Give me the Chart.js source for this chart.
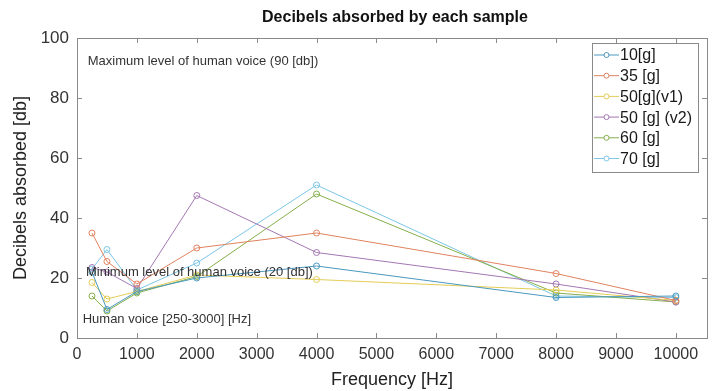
<!DOCTYPE html>
<html>
<head>
<meta charset="utf-8">
<script src="https://cdn.jsdelivr.net/npm/chart.js@4.4.1/dist/chart.umd.min.js"></script>
<style>
html,body{margin:0;padding:0;background:#fff;}
#wrap{width:715px;height:391px;position:relative;}
</style>
</head>
<body>
<div id="wrap"><canvas id="c" width="715" height="391"></canvas></div>
<script>
const frequencies = [250, 500, 1000, 2000, 4000, 8000, 10000];
const s10g   = [22, 9.5, 15.5, 20, 24, 13.5, 14];
const s35g   = [35, 25.5, 18, 30, 35, 21.5, 12.5];
const s50v1  = [18.5, 13, 15.5, 21, 19.5, 16, 12.5];
const s50v2  = [23.5, 22, 16.5, 47.5, 28.5, 18, 12];
const s60g   = [14, 9, 15, 20.5, 48, 15, 12];
const s70g   = [23, 29.5, 16, 25, 51, 14, 13.5];
const seriesNames = ['10[g]', '35 [g]', '50[g](v1)', '50 [g] (v2)', '60 [g]', '70 [g]'];
const xTicks = [0,1000,2000,3000,4000,5000,6000,7000,8000,9000,10000];
const yTicks = [0,20,40,60,80,100];
const annotations = [
  {x: 180, y: 92.3, text: 'Maximum level of human voice (90 [db])'},
  {x: 150, y: 21.8, text: 'Minimum level of human voice (20 [db])'},
  {x: 95, y: 6.2, text: 'Human voice [250-3000] [Hz]'}
];
const colors = ['#4a98bf', '#e0825f', '#e3cc55', '#a477b3', '#86ae4a', '#7cc6e6'];

const allSeries = [s10g, s35g, s50v1, s50v2, s60g, s70g];
const datasets = allSeries.map((arr, i) => ({
  label: seriesNames[i],
  data: arr.map((v, j) => ({x: frequencies[j], y: v})),
  borderColor: colors[i],
  backgroundColor: 'rgba(0,0,0,0)',
  pointBackgroundColor: 'rgba(0,0,0,0)',
  pointBorderColor: colors[i],
  pointRadius: 3,
  pointBorderWidth: 1,
  borderWidth: 1,
  tension: 0
}));

const FONT = 'Liberation Sans, Arial, sans-serif';

const decor = {
  id: 'decor',
  afterDraw(chart) {
    const ctx = chart.ctx;
    const a = chart.chartArea;
    const xs = chart.scales.x, ys = chart.scales.y;
    ctx.save();
    ctx.strokeStyle = '#8a8a8a';
    ctx.lineWidth = 1;
    ctx.strokeRect(Math.round(a.left)+0.5, Math.round(a.top)+0.5, Math.round(a.right-a.left), Math.round(a.bottom-a.top));
    const tl = 5;
    ctx.beginPath();
    xTicks.forEach(v => {
      const px = Math.round(xs.getPixelForValue(v)) + 0.5;
      ctx.moveTo(px, a.bottom); ctx.lineTo(px, a.bottom - tl);
      ctx.moveTo(px, a.top); ctx.lineTo(px, a.top + tl);
    });
    yTicks.forEach(v => {
      const py = Math.round(ys.getPixelForValue(v)) + 0.5;
      ctx.moveTo(a.left, py); ctx.lineTo(a.left + tl, py);
      ctx.moveTo(a.right, py); ctx.lineTo(a.right - tl, py);
    });
    ctx.stroke();
    ctx.fillStyle = '#111';
    ctx.font = 'bold 16px ' + FONT;
    ctx.textAlign = 'center';
    ctx.textBaseline = 'middle';
    ctx.fillText('Decibels absorbed by each sample', 395, 18);
    ctx.fillStyle = '#333';
    ctx.font = '13px ' + FONT;
    ctx.textAlign = 'left';
    annotations.forEach(t => {
      ctx.fillText(t.text, xs.getPixelForValue(t.x), ys.getPixelForValue(t.y));
    });
    const lx = 592, ly = 43, lw = 106, lh = 129;
    ctx.fillStyle = '#fff';
    ctx.fillRect(lx, ly, lw, lh);
    ctx.strokeStyle = '#8a8a8a';
    ctx.strokeRect(lx + 0.5, ly + 0.5, lw, lh);
    ctx.font = '16px ' + FONT;
    ctx.textBaseline = 'middle';
    seriesNames.forEach((name, i) => {
      const cy = 55 + i * 20.7;
      ctx.strokeStyle = colors[i];
      ctx.lineWidth = 1;
      ctx.beginPath();
      ctx.moveTo(594, cy); ctx.lineTo(619, cy);
      ctx.stroke();
      ctx.fillStyle = '#fff';
      ctx.beginPath();
      ctx.arc(606.5, cy, 2.5, 0, Math.PI * 2);
      ctx.fill(); ctx.stroke();
      ctx.fillStyle = '#1a1a1a';
      ctx.fillText(name, 620, cy + 1);
    });
    ctx.restore();
  }
};

new Chart(document.getElementById('c'), {
  type: 'line',
  data: {datasets},
  options: {
    responsive: false,
    animation: false,
    events: [],
    layout: {padding: {top: 38, right: 8, left: 0, bottom: 0}},
    plugins: {legend: {display: false}, title: {display: false}, tooltip: {enabled: false}},
    scales: {
      x: {
        type: 'linear', min: 0, max: 10520,
        afterBuildTicks: s => { s.ticks = xTicks.map(v => ({value: v})); },
        afterFit: s => { s.height = 53; },
        grid: {display: false, drawTicks: false},
        border: {display: false},
        ticks: {color: '#333', font: {family: FONT, size: 16}, padding: 7, maxRotation: 0, autoSkip: false,
                callback: v => String(v)},
        title: {display: true, text: 'Frequency [Hz]', color: '#222', font: {family: FONT, size: 18}, padding: {top: 0, bottom: 0}}
      },
      y: {
        type: 'linear', min: 0, max: 100,
        afterBuildTicks: s => { s.ticks = yTicks.map(v => ({value: v})); },
        afterFit: s => { s.width = 77; },
        grid: {display: false, drawTicks: false},
        border: {display: false},
        ticks: {color: '#333', font: {family: FONT, size: 17}, padding: 8, callback: v => String(v)},
        title: {display: true, text: 'Decibels absorbed [db]', color: '#222', font: {family: FONT, size: 18}, padding: {top: 10, bottom: 0}}
      }
    }
  },
  plugins: [decor]
});
</script>
</body>
</html>
